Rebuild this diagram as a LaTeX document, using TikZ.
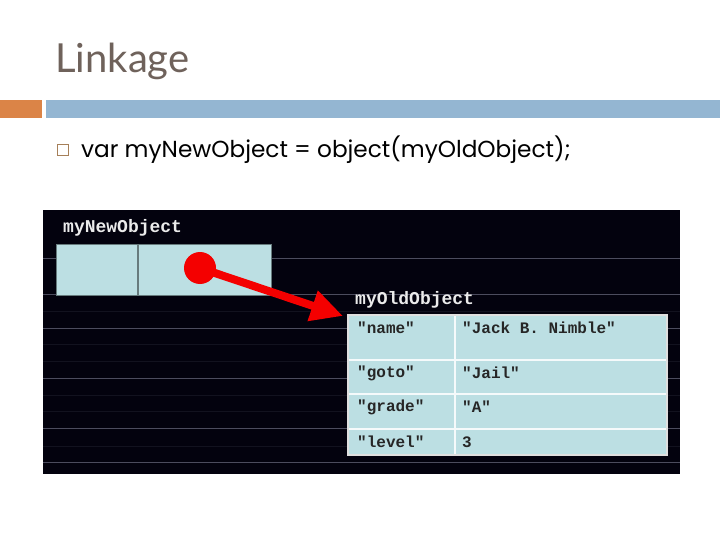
\documentclass[tikz,border=0pt]{standalone}
\usepackage{fontspec}
\setmainfont{Lato}
\setmonofont{Liberation Mono}
\newfontfamily\bodyfont{Poppins}
\usetikzlibrary{arrows.meta}
\definecolor{titlegray}{HTML}{6F625B}
\definecolor{barorange}{HTML}{DB8447}
\definecolor{barblue}{HTML}{94B6D2}
\definecolor{panel}{HTML}{03020E}
\definecolor{gridline}{HTML}{4C4C5E}
\definecolor{gridfaint}{HTML}{12121F}
\definecolor{cell}{HTML}{BCDFE3}
\definecolor{pointer}{HTML}{F40000}
\tikzset{
	lbl/.style={anchor=base west,inner sep=0,text=white!92!black,font=\ttfamily\bfseries\fontsize{18}{20}\selectfont},
	celltext/.style={anchor=west,inner sep=0,text=black!85,font=\ttfamily\bfseries\fontsize{16}{18}\selectfont},
	newcell/.style={anchor=north west,fill=cell,draw=black!45!cell,line width=1pt,minimum height=51pt,inner sep=0},
	ptr/.style={pointer,line width=8pt,-{Triangle[length=32pt,width=30pt]}}
}

\begin{document}
\begin{tikzpicture}[x=1pt,y=-1pt]
	\useasboundingbox (0,0) rectangle (720,540);
	\node[anchor=base west,inner sep=0,text=titlegray,font=\fontsize{40}{42}\selectfont] (title) at (55,73) {Linkage};
	\fill[barorange] (0,100) rectangle (42,118);
	\fill[barblue] (46,100) rectangle (720,118);
	\node[draw=brown!60!gray,line width=0.6pt,minimum size=11pt,inner sep=0] (bullet) at (62.5,150) {};
	\node[anchor=base west,inner sep=0,font=\bodyfont\fontsize{23.2}{26}\selectfont] (code) at (81,158) {var myNewObject = object(myOldObject);};
	\fill[panel] (43,210) rectangle (680,474);
	\foreach \y in {258,294,328,378,428,462}
		\draw[gridline,line width=1pt] (43,\y) -- (680,\y);
	\foreach \y in {311,344,361,395,411,446}
		\draw[gridfaint,line width=1pt] (43,\y) -- (680,\y);
	\node[lbl] (newlbl) at (63,233) {myNewObject};
	\node[newcell,minimum width=81pt] (newleft) at (56,244) {};
	\node[newcell,minimum width=133pt] (newright) at (newleft.north east) {};
	\node[lbl] (oldlbl) at (355,304) {myOldObject};
	\fill[cell] (348,315) rectangle (667,455);
	\foreach \y in {360,394,429}
		\draw[white!85!cell,line width=1.5pt] (348,\y) -- (667,\y);
	\draw[white!85!cell,line width=1.5pt] (455,315) -- (455,455);
	\draw[white!75!gray,line width=1.2pt] (348,315) rectangle (667,455);
	\foreach \k/\v/\y [count=\i] in {"name"/"Jack B. Nimble"/328,"goto"/"Jail"/373,"grade"/"A"/407,"level"/3/442} {
		\node[celltext] (key\i) at (357,\y) {\k};
		\node[celltext] (val\i) at (462,\y) {\v};
	}
	\node[circle,fill=pointer,minimum size=32pt,inner sep=0] (dot) at (200,268) {};
	\coordinate (tip) at (343,316);
	\draw[ptr] (dot.center) -- (tip);
\end{tikzpicture}
\end{document}
